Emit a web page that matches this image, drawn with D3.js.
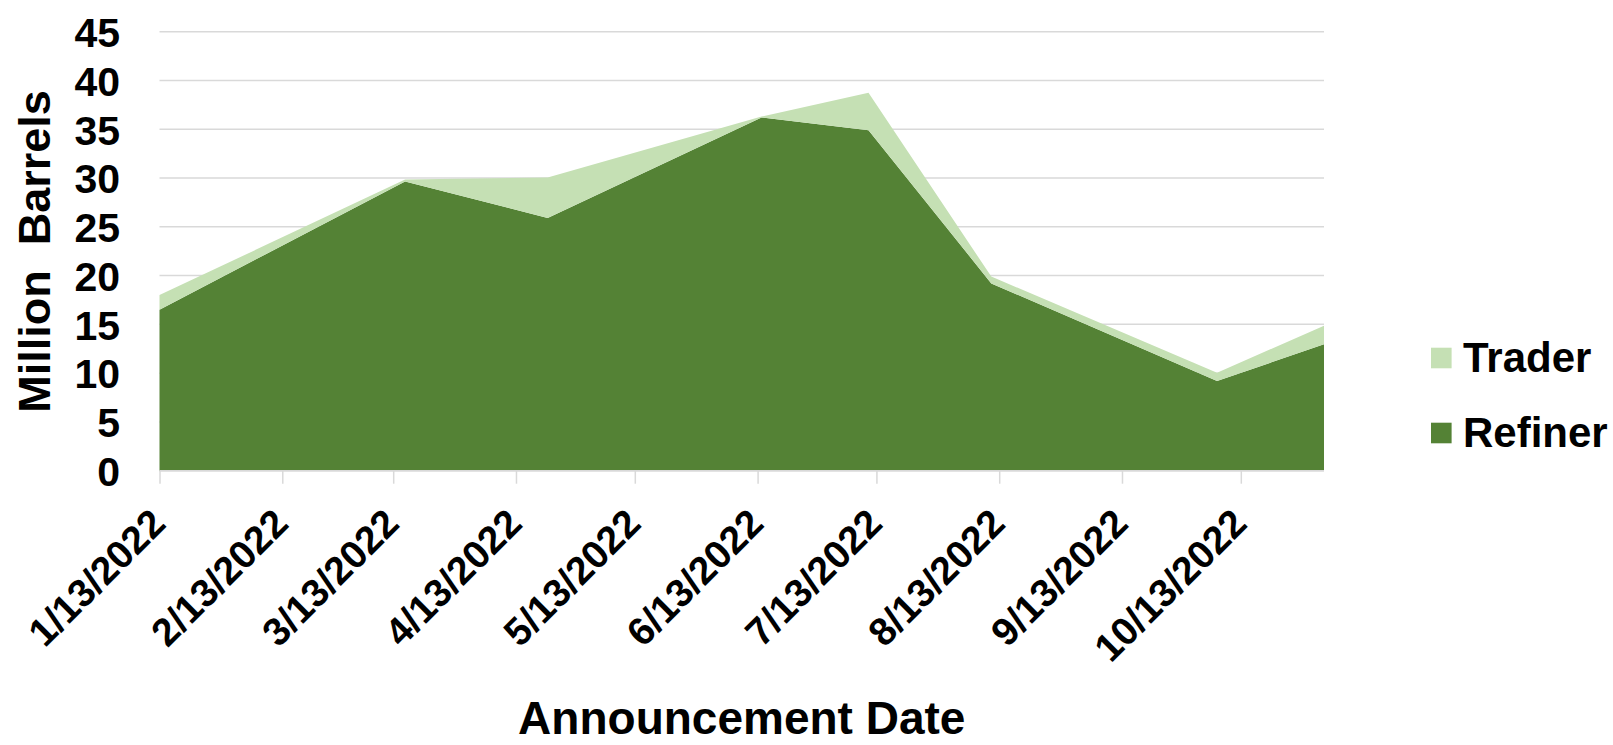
<!DOCTYPE html>
<html>
<head>
<meta charset="utf-8">
<script src="https://cdn.jsdelivr.net/npm/d3@7"></script>
<style>
  html, body { margin: 0; padding: 0; background: #fff; }
  svg { display: block; }
  text { font-family: "Liberation Sans", Arial, sans-serif; font-weight: bold; fill: #000; }
</style>
</head>
<body>
<svg id="chart" width="1613" height="745"></svg>
<script>
// ---- data ----
const dates = ["2022-01-13","2022-03-16","2022-04-21","2022-06-14","2022-07-11","2022-08-11","2022-10-07","2022-11-03"];
const refiner = [16.5, 29.65, 25.9, 36.2, 34.9, 19.2, 9.2, 12.95];
const trader  = [1.5, 0.2, 4.15, 0.1, 3.85, 0.7, 0.85, 1.9];
const seriesNames = ["Refiner", "Trader"];
const tickLabels = ["1/13/2022","2/13/2022","3/13/2022","4/13/2022","5/13/2022","6/13/2022","7/13/2022","8/13/2022","9/13/2022","10/13/2022"];
const yTicks = [0, 5, 10, 15, 20, 25, 30, 35, 40, 45];
const colors = { Refiner: "#548235", Trader: "#C5E0B4" };

// ---- layout ----
const svg = d3.select("#chart");
const plot = { left: 159.5, right: 1324, top: 31.7, bottom: 470.7 };

const parseDate = d3.utcParse("%Y-%m-%d");
const parseTick = d3.utcParse("%m/%d/%Y");
const rows = dates.map((d, i) => ({ date: parseDate(d), Refiner: refiner[i], Trader: trader[i] }));

const x = d3.scaleUtc()
  .domain(d3.extent(rows, d => d.date))
  .range([plot.left, plot.right]);
const y = d3.scaleLinear().domain([0, 45]).range([plot.bottom, plot.top]);

// gridlines
svg.append("g").selectAll("line").data(yTicks).join("line")
  .attr("x1", plot.left).attr("x2", plot.right)
  .attr("y1", d => y(d)).attr("y2", d => y(d))
  .attr("stroke", "#d9d9d9").attr("stroke-width", 1.5);

// stacked areas
const stack = d3.stack().keys(seriesNames);
const layers = stack(rows);
const area = d3.area()
  .x(d => x(d.data.date))
  .y0(d => y(d[0]))
  .y1(d => y(d[1]));
svg.append("g").selectAll("path").data(layers).join("path")
  .attr("d", area)
  .attr("fill", d => colors[d.key]);

// x axis
const tickDates = tickLabels.map(t => parseTick(t));
const xAxis = d3.axisBottom(x).tickValues(tickDates).tickSize(13).tickFormat("");
const gx = svg.append("g").attr("transform", `translate(0,${plot.bottom})`).call(xAxis);
gx.select(".domain").attr("stroke", "#d9d9d9").attr("stroke-width", 1.5).attr("d", `M${plot.left},0H${plot.right}`);
gx.selectAll(".tick line").attr("stroke", "#d9d9d9").attr("stroke-width", 1.5);

svg.append("g").selectAll("text").data(tickDates).join("text")
  .attr("transform", (d) => `translate(${x(d) + 8},${plot.bottom + 55}) rotate(-45)`)
  .attr("text-anchor", "end")
  .style("font-size", "39px")
  .text((d, i) => tickLabels[i]);

// y axis labels
const yAxis = d3.axisLeft(y).tickValues(yTicks).tickSize(0).tickPadding(39.5);
const gy = svg.append("g").attr("transform", `translate(${plot.left},0)`).call(yAxis);
gy.select(".domain").remove();
gy.selectAll(".tick text")
  .attr("dy", "0.36em")
  .style("font-size", "41px")
  .style("font-family", "'Liberation Sans', Arial, sans-serif")
  .style("font-weight", "bold")
  .attr("fill", "#000");

// axis titles
svg.append("text")
  .attr("transform", `translate(50,${251.5}) rotate(-90)`)
  .attr("text-anchor", "middle")
  .style("font-size", "45px")
  .style("white-space", "pre")
  .text("Million  Barrels");

svg.append("text")
  .attr("x", (plot.left + plot.right) / 2)
  .attr("y", 734)
  .attr("text-anchor", "middle")
  .style("font-size", "46px")
  .text("Announcement Date");

// legend
const legendItems = [
  { name: "Trader", y: 358 },
  { name: "Refiner", y: 433 }
];
const lg = svg.append("g");
lg.selectAll("rect").data(legendItems).join("rect")
  .attr("x", 1431).attr("y", d => d.y - 10.3)
  .attr("width", 20.6).attr("height", 20.6)
  .attr("fill", d => colors[d.name]);
lg.selectAll("text").data(legendItems).join("text")
  .attr("x", 1463).attr("y", d => d.y + 13.5)
  .style("font-size", "42px")
  .text(d => d.name);
</script>
</body>
</html>
